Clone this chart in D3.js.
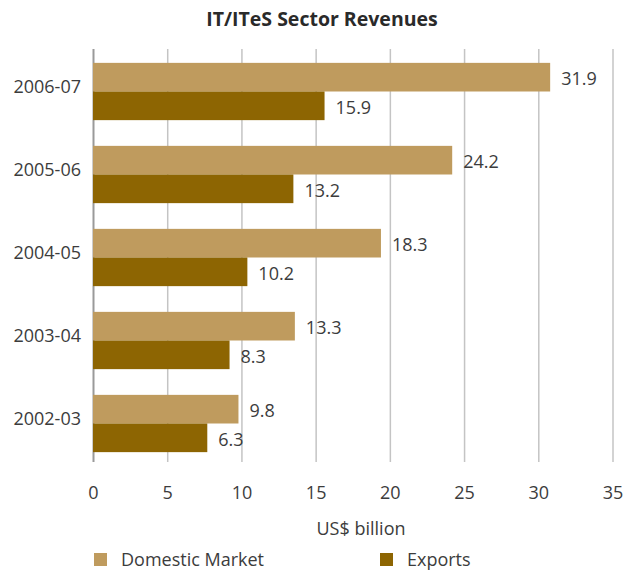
<!DOCTYPE html>
<html>
<head>
<meta charset="utf-8">
<script src="https://cdn.jsdelivr.net/npm/d3@7"></script>
<style>
    body { margin: 0; background: #fff; }
    text { font-family: "Open Sans", "Noto Sans", sans-serif; }
</style>
</head>
<body>
<div id="chart"></div>
<script>
const years = ["2006-07", "2005-06", "2004-05", "2003-04", "2002-03"];
// bar lengths as drawn in the picture
const domestic = [30.8, 24.2, 19.4, 13.6, 9.8];
const exports = [15.6, 13.5, 10.4, 9.2, 7.7];
// printed value labels
const domesticLabels = ["31.9", "24.2", "18.3", "13.3", "9.8"];
const exportsLabels = ["15.9", "13.2", "10.2", "8.3", "6.3"];
const xTicks = [0, 5, 10, 15, 20, 25, 30, 35];
const seriesNames = ["Domestic Market", "Exports"];

const width = 625;
const height = 571;
const colors = ["#bf9b5e", "#8d6502"];
const textColor = "#3c3c3c";
const fontSize = "18px";

const svg = d3.select("#chart")
    .append("svg")
    .attr("width", width)
    .attr("height", height);

const x = d3.scaleLinear().domain([0, 35]).range([93, 612.5]);
const y = d3.scaleBand().domain(years).range([50, 465]).paddingInner(0.31).paddingOuter(0.155);
const sub = d3.scaleBand().domain([0, 1]).range([0, y.bandwidth()]);

// title
svg.append("text")
    .attr("x", 322)
    .attr("y", 26)
    .attr("text-anchor", "middle")
    .attr("font-size", "19.5px")
    .attr("font-weight", "bold")
    .attr("fill", "#2a2a2a")
    .text("IT/ITeS Sector Revenues");

// grid + tick labels
const gridBottom = 462;
const axis = svg.append("g")
    .attr("transform", `translate(0,${gridBottom})`)
    .call(d3.axisBottom(x).tickValues(xTicks).tickSize(-(gridBottom - 49)).tickPadding(24));
axis.select(".domain").remove();
axis.selectAll(".tick line")
    .attr("stroke", d => d === 0 ? "#9a9a9a" : "#c4c4c4")
    .attr("stroke-width", d => d === 0 ? 2 : 1.5);
axis.selectAll(".tick text")
    .attr("font-family", "Open Sans, sans-serif")
    .attr("font-size", fontSize)
    .attr("fill", textColor);

// bars
const groups = svg.append("g")
    .selectAll("g")
    .data(years)
    .join("g")
    .attr("transform", d => `translate(0,${y(d)})`);

const rows = (d, i) => [
    { s: 0, v: domestic[i], label: domesticLabels[i] },
    { s: 1, v: exports[i], label: exportsLabels[i] }
];

groups.selectAll("rect")
    .data(rows)
    .join("rect")
    .attr("x", x(0))
    .attr("y", d => sub(d.s))
    .attr("width", d => x(d.v) - x(0))
    .attr("height", sub.bandwidth())
    .attr("fill", d => colors[d.s]);

groups.selectAll("text.val")
    .data(rows)
    .join("text")
    .attr("class", "val")
    .attr("x", d => x(d.v) + 11)
    .attr("y", d => sub(d.s) + sub.bandwidth() / 2 + 2)
    .attr("dy", "0.35em")
    .attr("font-size", fontSize)
    .attr("fill", textColor)
    .text(d => d.label);

// year labels
svg.append("g")
    .selectAll("text")
    .data(years)
    .join("text")
    .attr("x", 81)
    .attr("y", d => y(d) + 24)
    .attr("dy", "0.35em")
    .attr("text-anchor", "end")
    .attr("font-size", fontSize)
    .attr("fill", textColor)
    .text(d => d);

// axis title
svg.append("text")
    .attr("x", 361)
    .attr("y", 535)
    .attr("text-anchor", "middle")
    .attr("font-size", fontSize)
    .attr("fill", textColor)
    .text("US$ billion");

// legend
const legendX = [94, 380];
const legend = svg.append("g")
    .selectAll("g")
    .data(seriesNames)
    .join("g")
    .attr("transform", (d, i) => `translate(${legendX[i]},553)`);

legend.append("rect")
    .attr("width", 13)
    .attr("height", 13)
    .attr("fill", (d, i) => colors[i]);

legend.append("text")
    .attr("x", 27)
    .attr("y", 13)
    .attr("font-size", fontSize)
    .attr("fill", textColor)
    .text(d => d);
</script>
</body>
</html>
